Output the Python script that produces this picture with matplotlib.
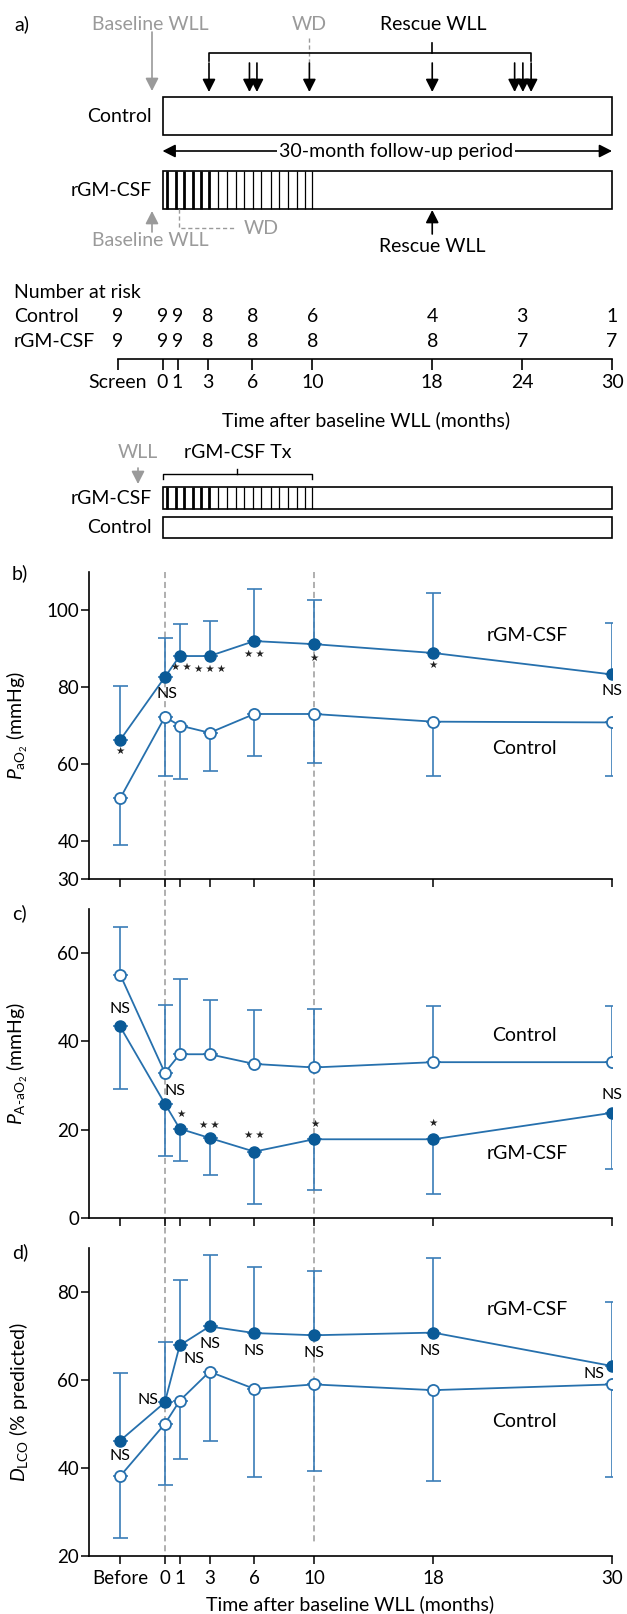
import numpy as np
import matplotlib
matplotlib.use('Agg')
import matplotlib.pyplot as plt
import matplotlib.transforms as mtransforms
from matplotlib.lines import Line2D
from matplotlib.patches import Rectangle

plt.rcParams['font.family'] = ['Lato', 'DejaVu Sans']
plt.rcParams['mathtext.fontset'] = 'custom'
plt.rcParams['mathtext.rm'] = 'Lato'
plt.rcParams['mathtext.it'] = 'Lato:italic'

# ---- panel a : schematic data ----
ctl_rescue = [3.1, 5.8, 6.3, 18.0, 23.5, 24.05, 24.6]
ctl_wd = 9.8
rgm_rescue = 18.0
rgm_wd = 1.1
tx_bold = [0.31, 0.89, 1.46, 2.02, 2.57, 3.12]
tx_thin = [3.72, 4.30, 4.87, 5.45, 6.02, 6.60, 7.22, 7.79, 8.37, 8.95, 9.52, 10.0]
risk_months = [-3, 0, 1, 3, 6, 10, 18, 24, 30]
risk_labels = ['Screen', '0', '1', '3', '6', '10', '18', '24', '30']
risk_ctl = [9, 9, 9, 8, 8, 6, 4, 3, 1]
risk_rgm = [9, 9, 9, 8, 8, 8, 8, 7, 7]

# ---- panels b-d ----
months = [-3, 0, 1, 3, 6, 10, 18, 30]
month_labels = ['Before', '0', '1', '3', '6', '10', '18', '30']

pao2_rgm = [66.2, 82.6, 88.1, 88.1, 92.0, 91.2, 88.9, 83.3]
pao2_rgm_hi = [80.4, 92.8, 96.4, 97.3, 105.6, 102.6, 104.6, 96.8]
pao2_ctl = [51.0, 72.2, 70.0, 68.1, 73.0, 73.0, 71.0, 70.8]
pao2_ctl_lo = [38.8, 56.9, 56.0, 58.1, 62.0, 60.2, 56.9, 56.9]
pao2_sig = ['*', 'NS', '**', '***', '**', '*', '*', 'NS']

aado2_ctl = [55.2, 32.9, 37.1, 37.1, 34.9, 34.1, 35.3, 35.3]
aado2_ctl_hi = [65.9, 48.2, 54.1, 49.3, 47.2, 47.4, 48.1, 48.1]
aado2_rgm = [43.4, 25.9, 20.2, 18.1, 15.0, 17.8, 17.8, 23.8]
aado2_rgm_lo = [29.1, 14.1, 12.8, 9.8, 3.1, 6.2, 5.3, 11.0]
aado2_sig = ['NS', 'NS', '*', '**', '**', '*', '*', 'NS']

dlco_rgm = [46.2, 54.9, 67.9, 72.2, 70.7, 70.2, 70.8, 63.2]
dlco_rgm_hi = [61.7, 68.7, 82.8, 88.5, 85.7, 84.8, 87.7, 77.7]
dlco_ctl = [38.1, 50.0, 55.3, 61.9, 58.0, 59.0, 57.7, 59.0]
dlco_ctl_lo = [24.0, 36.1, 42.1, 46.1, 38.0, 39.2, 36.9, 37.9]
dlco_sig = ['NS', 'NS', 'NS', 'NS', 'NS', 'NS', 'NS', 'NS']

W, H = 627, 1614
FS = 14
TFS = 13.5
GREY = '#9a9a9a'
LINE = '#2670ad'
DARK = '#0a5a97'
EBAR = '#3a7db8'

fig = plt.figure(figsize=(W / 100, H / 100), dpi=100)


def rect(left, top, right, bottom):
    return [left / W, 1 - bottom / H, (right - left) / W, (bottom - top) / H]


# ============ panel a ============
A_BOTTOM = 548
ax = fig.add_axes([0, 1 - A_BOTTOM / H, 1, A_BOTTOM / H])
XL, XR = -10.85, 31.0
ax.set_xlim(XL, XR)
ax.set_ylim(A_BOTTOM, 0)
ax.axis('off')


def m(px):
    # pixel column -> month units of this axes
    return XL + px / W * (XR - XL)


def arrow(x0, y0, x1, y1, color='black', lw=1.2):
    ax.annotate('', xy=(x1, y1), xytext=(x0, y0),
                arrowprops=dict(arrowstyle='-|>,head_length=0.55,head_width=0.28',
                                color=color, lw=lw, shrinkA=0, shrinkB=0,
                                mutation_scale=14))


def box(top, bottom, stripes=False):
    ax.add_patch(Rectangle((0, top), 30, bottom - top, fill=False, ec='black', lw=1.2))
    if stripes:
        ax.vlines(tx_bold, top, bottom, color='black', lw=2.0)
        ax.vlines(tx_thin, top, bottom, color='black', lw=0.9)


fig.text(14 / W, 1 - 24 / H, 'a)', fontsize=FS, va='center')
ax.text(m(150), 24, 'Baseline WLL', color=GREY, fontsize=FS, ha='center', va='center')
ax.text(ctl_wd, 24, 'WD', color=GREY, fontsize=FS, ha='center', va='center')
ax.text(18.1, 24, 'Rescue WLL', fontsize=FS, ha='center', va='center')
arrow(m(152), 32, m(152), 91, color=GREY)
ax.plot([ctl_wd, ctl_wd], [38, 62], color=GREY, lw=1.0, ls=(0, (3, 2)))
arrow(ctl_wd, 63, ctl_wd, 92)
for x in ctl_rescue:
    arrow(x, 63, x, 92)
ax.plot([ctl_rescue[0], ctl_rescue[0], ctl_rescue[-1], ctl_rescue[-1]],
        [61, 53.3, 53.3, 61], color='black', lw=1.2)
ax.plot([18, 18], [43, 53.3], color='black', lw=1.2)

box(96.5, 134.5)
ax.text(m(152), 116, 'Control', fontsize=FS, ha='right', va='center')
ax.annotate('', xy=(30, 151), xytext=(0, 151),
            arrowprops=dict(arrowstyle='<|-|>,head_length=0.55,head_width=0.28',
                            color='black', lw=1.2, shrinkA=0, shrinkB=0, mutation_scale=14))
ax.text(m(396), 151, '30-month follow-up period', fontsize=FS, ha='center', va='center',
        bbox=dict(fc='white', ec='none', pad=1.5))

box(171.3, 209, stripes=True)
ax.text(m(152), 190, 'rGM-CSF', fontsize=FS, ha='right', va='center')
arrow(m(152), 232, m(152), 211, color=GREY)
ax.text(m(150), 241, 'Baseline WLL', color=GREY, fontsize=FS, ha='center', va='center')
ax.plot([rgm_wd, rgm_wd, m(236)], [209, 228, 228], color=GREY, lw=1.0, ls=(0, (3, 2)))
ax.text(m(261), 228, 'WD', color=GREY, fontsize=FS, ha='center', va='center')
arrow(rgm_rescue, 234, rgm_rescue, 210)
ax.text(rgm_rescue, 246, 'Rescue WLL', fontsize=FS, ha='center', va='center')

# number at risk
ax.text(m(14), 293, 'Number at risk', fontsize=FS, ha='left', va='center')
ax.text(m(14), 317, 'Control', fontsize=FS, ha='left', va='center')
ax.text(m(14), 341.5, 'rGM-CSF', fontsize=FS, ha='left', va='center')
for x, c, r, lab in zip(risk_months, risk_ctl, risk_rgm, risk_labels):
    ax.text(x, 317, str(c), fontsize=FS, ha='center', va='center')
    ax.text(x, 341.5, str(r), fontsize=FS, ha='center', va='center')
    ax.text(x, 383, lab, fontsize=FS, ha='center', va='center')
ax.plot([risk_months[0], risk_months[-1]], [359.3, 359.3], color='black', lw=1.2)
ax.vlines(risk_months, 359.3, 370, color='black', lw=1.2)
ax.text(m(366), 420, 'Time after baseline WLL (months)', fontsize=FS, ha='center', va='center')

# lower schematic
ax.text(m(138), 452.7, 'WLL', color=GREY, fontsize=FS, ha='center', va='center')
ax.text(5.0, 452.7, 'rGM-CSF Tx', fontsize=FS, ha='center', va='center')
arrow(m(138), 468, m(138), 484, color=GREY)
ax.plot([0, 0, 10, 10], [478.5, 474, 474, 478.5], color='black', lw=1.0)
ax.plot([5, 5], [468.5, 474], color='black', lw=1.0)
box(487.3, 509, stripes=True)
ax.text(m(152), 498, 'rGM-CSF', fontsize=FS, ha='right', va='center')
box(516.7, 538.3)
ax.text(m(152), 527.5, 'Control', fontsize=FS, ha='right', va='center')

# ============ panels b-d ============
AX_L, AX_R = 88.8, 612
axb = fig.add_axes(rect(AX_L, 572, AX_R, 879))
axc = fig.add_axes(rect(AX_L, 909.3, AX_R, 1217.7))
axd = fig.add_axes(rect(AX_L, 1248.3, AX_R, 1555.7))


def style(a, ylim, yticks, ylabel, last=False):
    a.patch.set_visible(False)
    a.set_xlim(-5.1, 30)
    a.set_ylim(*ylim)
    a.set_yticks(yticks)
    a.set_xticks(months)
    if last:
        a.set_xticklabels(month_labels)
    else:
        a.set_xticklabels([])
    for s in ['top', 'right']:
        a.spines[s].set_visible(False)
    for s in ['left', 'bottom']:
        a.spines[s].set_linewidth(1.2)
    a.tick_params(direction='out', length=6, width=1.1, labelsize=TFS, pad=1)
    a.set_ylabel(ylabel, fontsize=FS)
    a.yaxis.set_label_coords(-0.112, 0.5)


def series(a, y, bound, filled, up):
    y = np.asarray(y)
    b = np.asarray(bound)
    err = np.abs(b - y)
    z = np.zeros_like(err)
    yerr = [z, err] if up else [err, z]
    a.errorbar(months, y, yerr=yerr, fmt='none', ecolor=EBAR, elinewidth=1.2,
               capsize=5.4, capthick=1.2, zorder=2)
    if filled:
        a.plot(months, y, '-o', color=LINE, lw=1.3, ms=8, mfc=DARK, mec=DARK, zorder=3)
    else:
        a.plot(months, y, '-o', color=LINE, lw=1.3, ms=8, mfc='white', mec=LINE,
               mew=1.3, zorder=3)


def sig(a, y, labels, offsets):
    for x, v, s, (dx, dy) in zip(months, y, labels, offsets):
        if s == 'NS':
            a.annotate(s, (x, v), xytext=(dx, dy), textcoords='offset pixels',
                       ha='center', va='center', fontsize=11.5)
        else:
            a.annotate('\u2009'.join('\u2605' * len(s)), (x, v), xytext=(dx, dy),
                       textcoords='offset pixels', ha='center', va='center',
                       fontsize=7.5, family='DejaVu Sans', color='#222222')


# b
series(axb, pao2_rgm, pao2_rgm_hi, True, True)
series(axb, pao2_ctl, pao2_ctl_lo, False, False)
style(axb, (30, 110), [30, 40, 60, 80, 100], r'$P_{\mathrm{aO}_2}$ (mmHg)')
sig(axb, pao2_rgm, pao2_sig,
    [(0, -11), (2, -17), (2, -11), (0, -13), (0, -13), (0, -14), (0, -12), (0, -17)])
axb.text(24.3, 93.4, 'rGM-CSF', fontsize=FS, ha='center', va='center')
axb.text(24.1, 64, 'Control', fontsize=FS, ha='center', va='center')

# c
series(axc, aado2_ctl, aado2_ctl_hi, False, True)
series(axc, aado2_rgm, aado2_rgm_lo, True, False)
style(axc, (0, 70), [0, 20, 40, 60], r'$P_{\mathrm{A\text{-}aO}_2}$ (mmHg)')
sig(axc, aado2_rgm, aado2_sig,
    [(0, 17), (10, 13), (1, 15), (0, 13), (0, 17), (1, 15), (0, 16), (0, 18)])
axc.text(24.1, 41.3, 'Control', fontsize=FS, ha='center', va='center')
axc.text(24.3, 14.6, 'rGM-CSF', fontsize=FS, ha='center', va='center')

# d
series(axd, dlco_rgm, dlco_rgm_hi, True, True)
series(axd, dlco_ctl, dlco_ctl_lo, False, False)
style(axd, (20, 90), [20, 40, 60, 80], r'$D_{\mathrm{LCO}}$ (% predicted)', last=True)
sig(axd, dlco_rgm, dlco_sig,
    [(0, -15), (-17, 2), (14, -14), (0, -18), (0, -18), (0, -18), (-3, -18), (-18, -8)])
axd.text(24.3, 76.0, 'rGM-CSF', fontsize=FS, ha='center', va='center')
axd.text(24.1, 50.6, 'Control', fontsize=FS, ha='center', va='center')
fig.text((AX_L + AX_R) / 2 / W, 1 - 1604 / H, 'Time after baseline WLL (months)',
         fontsize=FS, ha='center', va='center')

for lab, y in [('b)', 573), ('c)', 913), ('d)', 1252)]:
    fig.text(12 / W, 1 - y / H, lab, fontsize=FS, va='center')

# dashed guide lines at 0 and 10 months through panels b-d
tr = mtransforms.blended_transform_factory(axd.transData, fig.transFigure)
for x, yend in [(0, 1555.7), (10, 1543)]:
    fig.add_artist(Line2D([x, x], [1 - 572 / H, 1 - yend / H], transform=tr,
                          color=GREY, lw=1.1, ls=(0, (4, 2.5)), zorder=-1))

# put the month tick labels of panel d where the reference has them
fig.canvas.draw()
bb = axd.get_xticklabels()[1].get_window_extent()
now = H - (bb.y0 + bb.y1) / 2
axd.tick_params(axis='x', pad=1 + (1579 - now) * 0.72)

fig.savefig('out.png', dpi=100)
